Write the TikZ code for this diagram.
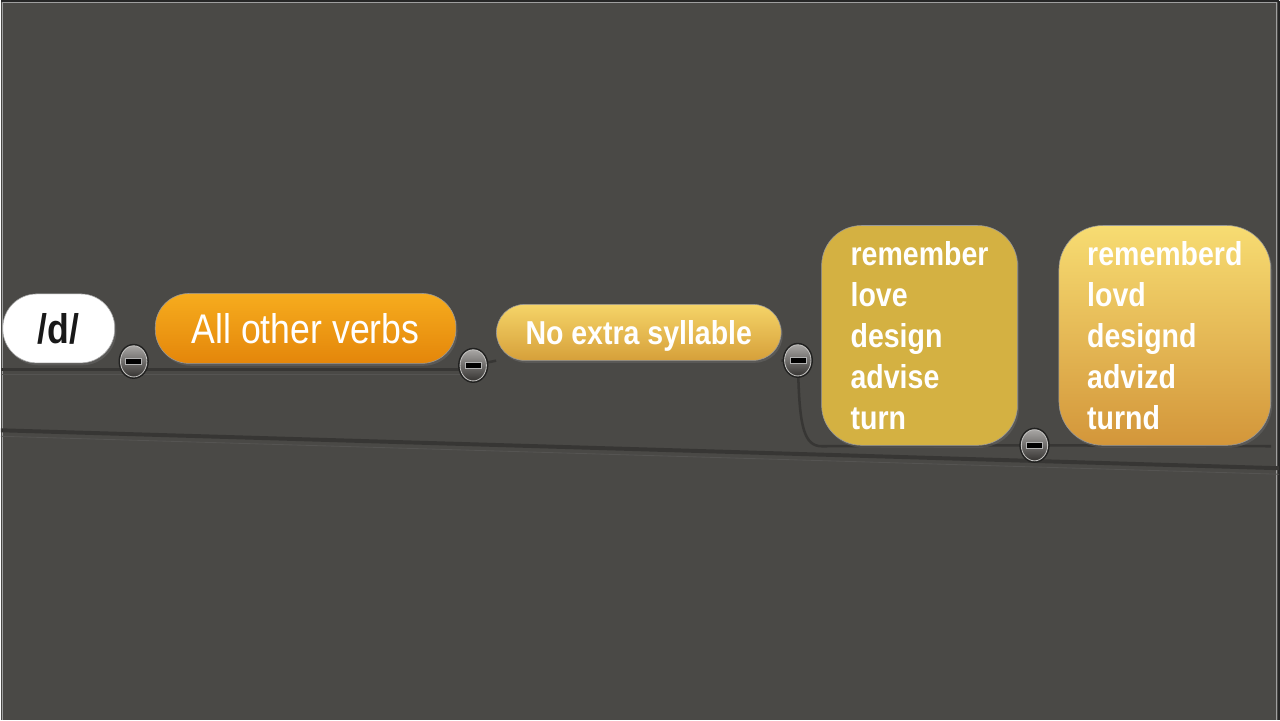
\documentclass[tikz,border=0pt]{standalone}
\usepackage{fontspec}
\setmainfont{Liberation Sans}[FakeStretch=0.86]
\usetikzlibrary{shapes,positioning,backgrounds,shadows}
\definecolor{fondo}{HTML}{4A4946}
\definecolor{linea}{HTML}{373634}
\definecolor{brillo}{HTML}{555452}
\definecolor{naranjaA}{HTML}{F6AC1E}
\definecolor{naranjaB}{HTML}{E4860A}
\definecolor{oroA}{HTML}{F5D468}
\definecolor{oroB}{HTML}{D6A03A}
\definecolor{oro}{HTML}{D4B142}
\definecolor{miel}{HTML}{F7DC72}
\definecolor{mielB}{HTML}{D3963A}
\definecolor{btnA}{HTML}{A8A6A4}
\definecolor{btnB}{HTML}{363432}

\begin{document}
\begin{tikzpicture}[x=0.025cm,y=-0.025cm]
 \tikzset{root node/.style={rectangle, draw=gray!70, fill=white,
 		rounded corners=0.85cm, minimum width=2.8cm, minimum height=1.725cm,
 		inner sep=0, text=black!90, text centered,
 		font=\fontsize{29.5}{32}\selectfont\bfseries,
 		drop shadow={opacity=0.3, shadow xshift=0.04cm, shadow yshift=-0.06cm}}, }
 \tikzset{topic node/.style={rectangle, draw=gray!80, top color=naranjaA,
 		bottom color=naranjaB, rounded corners=0.85cm, minimum width=7.525cm,
 		minimum height=1.75cm, inner sep=0, text=white, text centered,
 		font=\fontsize{29.5}{32}\selectfont,
 		drop shadow={opacity=0.3, shadow xshift=0.04cm, shadow yshift=-0.06cm}}, }
 \tikzset{sub node/.style={rectangle, draw=gray!80, top color=oroA,
 		bottom color=oroB, rounded corners=0.7cm, minimum width=7.125cm,
 		minimum height=1.4cm, inner sep=0, text=white, text centered,
 		text height=0.6cm, text depth=0cm,
 		font=\fontsize{23.6}{26}\selectfont\bfseries,
 		drop shadow={opacity=0.3, shadow xshift=0.04cm, shadow yshift=-0.06cm}}, }
 \tikzset{list node/.style={rectangle, draw=gray!80, fill=oro,
 		rounded corners=1cm, minimum width=4.9cm, minimum height=5.5cm,
 		inner sep=0, text=white, align=left,
 		font=\fontsize{23.6}{29.2}\selectfont\bfseries,
 		drop shadow={opacity=0.3, shadow xshift=0.04cm, shadow yshift=-0.06cm}}, }
 \tikzset{leaf node/.style={list node, fill=none, top color=miel,
 		bottom color=mielB, rounded corners=1.1cm, minimum width=5.3cm}, }
 \tikzset{fold node/.style={ellipse, draw=btnA!70!white, line width=0.6pt,
 		top color=btnA, bottom color=btnB, minimum width=0.66cm,
 		minimum height=0.78cm, inner sep=0,
 		preaction={draw=black!55!fondo, line width=2.8pt},
 		path picture={\draw[gray!60, fill=black, line width=0.4pt]
 			([xshift=-0.2cm,yshift=-0.075cm]path picture bounding box.center)
 			rectangle ([xshift=0.2cm,yshift=0.075cm]path picture bounding box.center);}}, }
 \tikzset{rama/.style={draw=linea, line width=1.8pt},}
 \tikzset{diagonal/.style={draw=linea, line width=2.8pt},}
 \tikzset{reflejo/.style={draw=brillo, line width=0.6pt},}

 \begin{scope}[on background layer]
 \fill[fondo] (0,0) rectangle (1280,720);
 \draw[black!85, line width=1.2pt] (0,0) -- (1280,0);
 \draw[black!85, line width=1.2pt] (1280,0) -- (1280,720);
 \draw[gray!75, line width=0.7pt] (2,720) -- (2,2) -- (1277,2) -- (1277,720);
 \end{scope}
 \useasboundingbox (0,0) rectangle (1280,720);

 \node[root node] (d) at (58,328) {/d/};
 \node[topic node] (verbs) [right=1cm of d] {All other verbs};
 \node[sub node] (syll) [right=1cm of verbs, yshift=-0.1cm] {No extra syllable};
 \node[list node] (words) [right=1cm of syll, yshift=-0.075cm]
 	{remember\\love\\design\\advise\\turn};
 \node[leaf node] (spelled) [right=1.025cm of words]
 	{rememberd\\lovd\\designd\\advizd\\turnd};

 \node[fold node] (b1) at (133,361) {};
 \node[fold node] (b2) at (473,365) {};
 \node[fold node] (b3) at (798,360) {};
 \node[fold node] (b4) at (1035,445) {};

 \coordinate (w0) at (0,369);
 \coordinate (r0) at (0,374);
 \coordinate (c1) at (822,446);
 \coordinate (w1) at (1272,446);
 \coordinate (dg0) at (0,430);
 \coordinate (dg1) at (1280,468);
 \coordinate (rg0) at (0,436);
 \coordinate (rg1) at (1280,474);

 \begin{scope}[on background layer]
 \draw[rama] (w0) -- (w0 -| b2);
 \draw[reflejo] (r0) -- (r0 -| b2);
 \foreach \x /\y in {b2/syll.south west, syll.south east/b3, b4/w1}
 \draw[rama] (\x) -- (\y);
 \draw[rama] (b3) .. controls (800,425) and (804,446) .. (c1) -- (b4);
 \draw[diagonal] (dg0) -- (dg1);
 \draw[reflejo] (rg0) -- (rg1);
 \end{scope}
\end{tikzpicture}
\end{document}
